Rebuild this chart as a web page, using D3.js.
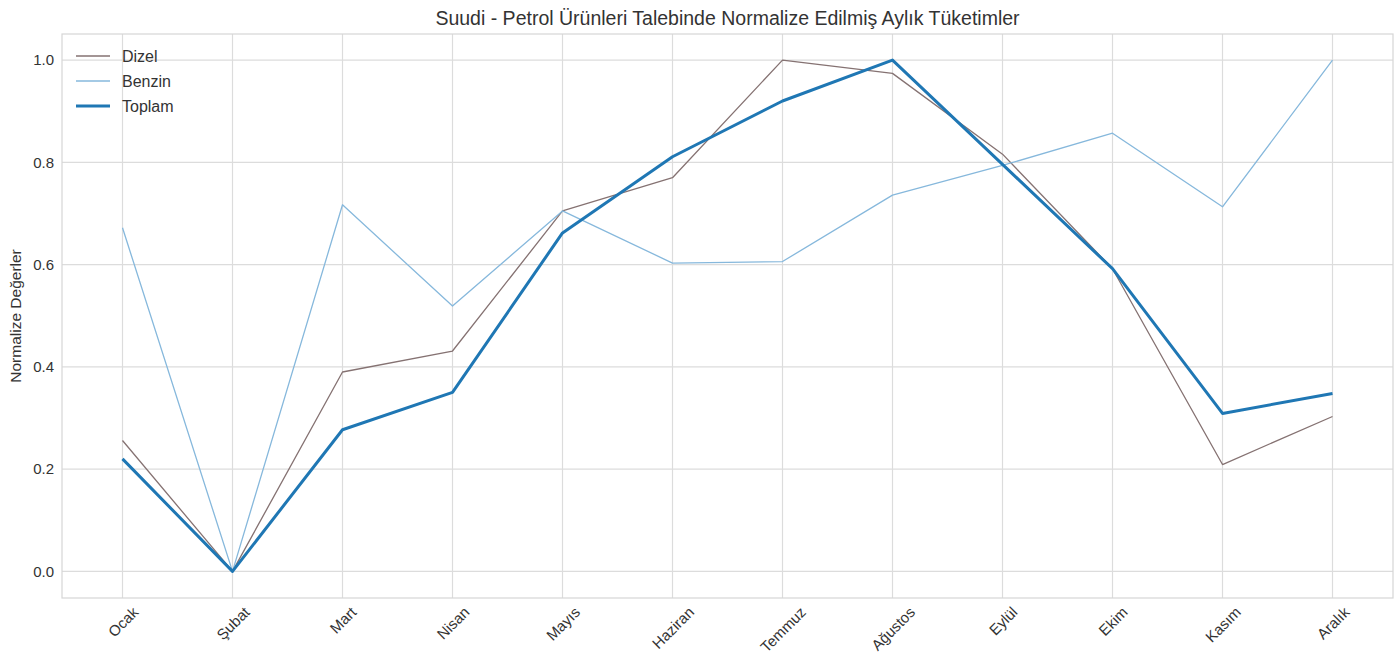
<!DOCTYPE html>
<html lang="tr">
<head>
<meta charset="UTF-8">
<title>Suudi - Petrol Ürünleri</title>
<script src="https://d3js.org/d3.v7.min.js"></script>
<style>
  body { margin: 0; background: #fff; }
  text { font-family: "Liberation Sans", Arial, sans-serif; fill: #333; }
</style>
</head>
<body>
<script>
// veriler
var months = ["Ocak", "Şubat", "Mart", "Nisan", "Mayıs", "Haziran", "Temmuz", "Ağustos", "Eylül", "Ekim", "Kasım", "Aralık"];
var dizel  = [0.256, 0.0, 0.390, 0.431, 0.705, 0.770, 1.0, 0.974, 0.816, 0.592, 0.209, 0.303];
var benzin = [0.672, 0.0, 0.717, 0.519, 0.705, 0.603, 0.606, 0.736, 0.794, 0.857, 0.713, 1.0];
var toplam = [0.220, 0.0, 0.277, 0.350, 0.662, 0.811, 0.920, 1.0, 0.796, 0.592, 0.309, 0.348];
var yTicks = [0.0, 0.2, 0.4, 0.6, 0.8, 1.0];

var width = 1400, height = 655;
var margin = { top: 34, right: 7, bottom: 57, left: 62 };

var svg = d3.select("body").append("svg")
    .attr("width", width)
    .attr("height", height);

var x = d3.scaleLinear()
    .domain([-0.55, months.length - 1 + 0.55])
    .range([margin.left, width - margin.right]);

var y = d3.scaleLinear()
    .domain([-0.052, 1.051])
    .range([height - margin.bottom, margin.top]);

// grid
svg.append("g")
    .selectAll("line.v")
    .data(months)
    .enter().append("line")
    .attr("x1", (d, i) => x(i)).attr("x2", (d, i) => x(i))
    .attr("y1", margin.top).attr("y2", height - margin.bottom)
    .attr("stroke", "#dcdcdc").attr("stroke-width", 1.2);

svg.append("g")
    .selectAll("line.h")
    .data(yTicks)
    .enter().append("line")
    .attr("x1", margin.left).attr("x2", width - margin.right)
    .attr("y1", d => y(d)).attr("y2", d => y(d))
    .attr("stroke", "#dcdcdc").attr("stroke-width", 1.2);

// çerçeve
svg.append("rect")
    .attr("x", margin.left).attr("y", margin.top)
    .attr("width", width - margin.left - margin.right)
    .attr("height", height - margin.top - margin.bottom)
    .attr("fill", "none").attr("stroke", "#d6d6d6").attr("stroke-width", 1.2);

// y ekseni
var yAxis = d3.axisLeft(y).tickValues(yTicks).tickFormat(d3.format(".1f")).tickSize(0).tickPadding(8);
var gy = svg.append("g").attr("transform", `translate(${margin.left},0)`).call(yAxis);
gy.select(".domain").remove();
gy.selectAll("text").style("font-size", "15px").style("fill", "#333");

// x ekseni, etiketler 45 derece
var fs = 15;
var xAxis = d3.axisBottom(x).tickValues(d3.range(months.length)).tickFormat(i => months[i]).tickSize(0);
var gx = svg.append("g").attr("transform", `translate(0,${height - margin.bottom})`).call(xAxis);
gx.select(".domain").remove();
gx.selectAll("text")
    .style("font-size", fs + "px").style("fill", "#333")
    .attr("dy", null)
    .attr("text-anchor", "middle")
    .attr("dominant-baseline", "central")
    .each(function () {
        var w = this.getComputedTextLength();
        var half = (w + fs) * Math.SQRT1_2 / 2;
        d3.select(this)
            .attr("y", 6 + half)
            .attr("transform", `rotate(-45,0,${6 + half})`);
    });

// çizgiler
var line = d3.line().x((d, i) => x(i)).y(d => y(d));

var series = [
    { name: "Dizel", values: dizel, color: "#857272", width: 1.3 },
    { name: "Benzin", values: benzin, color: "#86b8dc", width: 1.3 },
    { name: "Toplam", values: toplam, color: "#1f77b4", width: 3 }
];

svg.selectAll("path.series")
    .data(series)
    .enter().append("path")
    .attr("class", "series")
    .attr("d", d => line(d.values))
    .attr("fill", "none")
    .attr("stroke", d => d.color)
    .attr("stroke-width", d => d.width)
    .attr("stroke-linejoin", "round");

// lejant
var leg = svg.append("g").attr("transform", "translate(76,56)");
series.forEach(function (s, i) {
    leg.append("line")
        .attr("x1", 0).attr("x2", 34)
        .attr("y1", i * 25).attr("y2", i * 25)
        .attr("stroke", s.color).attr("stroke-width", s.width);
    leg.append("text")
        .attr("x", 46).attr("y", i * 25)
        .attr("dy", "0.35em")
        .style("font-size", "16px")
        .text(s.name);
});

// başlık
svg.append("text")
    .attr("x", (margin.left + width - margin.right) / 2)
    .attr("y", 25)
    .attr("text-anchor", "middle")
    .style("font-size", "19.5px")
    .text("Suudi - Petrol Ürünleri Talebinde Normalize Edilmiş Aylık Tüketimler");

// y etiketi
svg.append("text")
    .attr("transform", `translate(21,${(margin.top + height - margin.bottom) / 2}) rotate(-90)`)
    .attr("text-anchor", "middle")
    .style("font-size", "15.5px")
    .text("Normalize Değerler");
</script>
</body>
</html>
